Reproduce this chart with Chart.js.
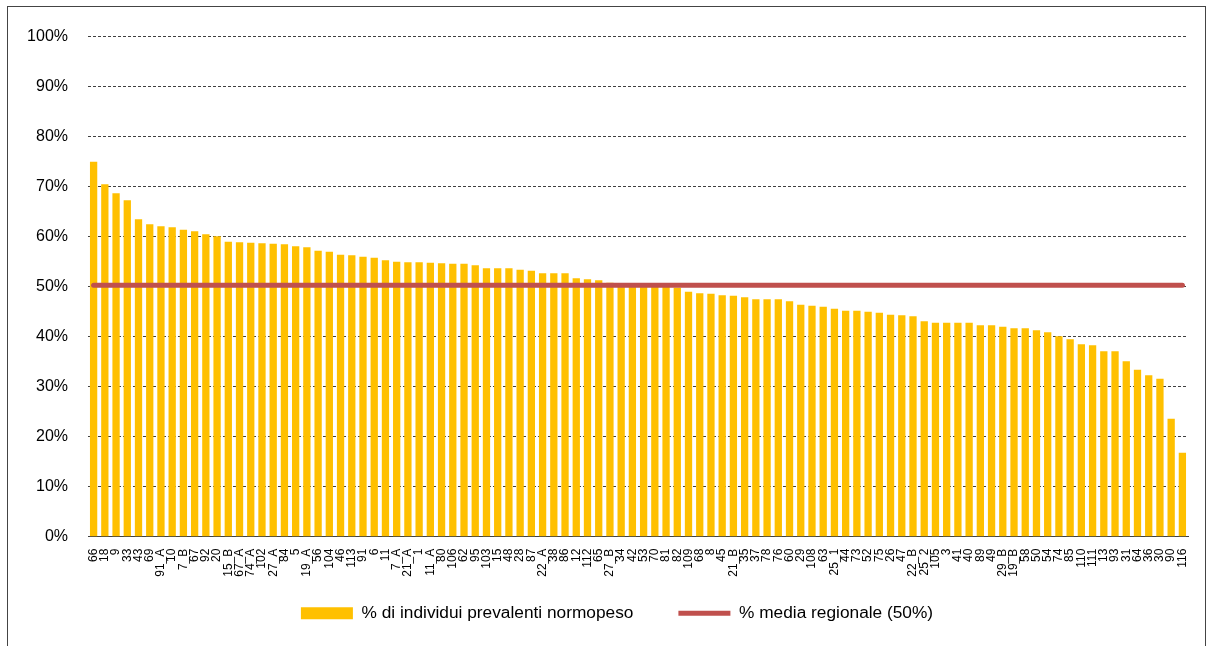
<!DOCTYPE html>
<html>
<head>
<meta charset="utf-8">
<script src="https://cdn.jsdelivr.net/npm/chart.js@4"></script>
<style>
  body { margin: 0; background: #fff; overflow: hidden; }
  #frame { position: absolute; left: 7px; top: 6px; width: 1197px; height: 660px; border: 1px solid #444; }
  #graph { display: block; }
</style>
</head>
<body>
<div id="frame"><canvas id="graph" width="1197" height="638"></canvas></div>
<script>
const ctx = document.getElementById('graph');

// codici distretto (asse x)
const districts = [
    '66', '18', '9', '33', '43', '69', '91_A', '10', '7_B', '67',
    '92', '20', '15_B', '67_A', '74_A', '102', '27_A', '84', '5', '19_A',
    '56', '104', '46', '113', '91', '6', '11', '7_A', '21_A', '1',
    '11_A', '80', '106', '62', '95', '103', '15', '48', '28', '87',
    '22_A', '38', '86', '12', '112', '65', '27_B', '34', '42', '53',
    '70', '81', '82', '109', '68', '8', '45', '21_B', '35', '37',
    '78', '76', '60', '29', '108', '63', '25_1', '44', '73', '52',
    '75', '26', '47', '22_B', '25_2', '105', '3', '41', '40', '89',
    '49', '29_B', '19_B', '58', '50', '54', '74', '85', '110', '111',
    '13', '93', '31', '64', '36', '30', '90', '116'
];

// % di individui prevalenti normopeso
const normopeso = [
    75.0, 70.5, 68.7, 67.3, 63.5, 62.5, 62.1, 61.9, 61.4, 61.1,
    60.5, 60.1, 59.0, 58.9, 58.8, 58.7, 58.6, 58.5, 58.1, 57.9,
    57.2, 57.0, 56.4, 56.3, 56.0, 55.8, 55.3, 55.0, 54.9, 54.9,
    54.8, 54.7, 54.6, 54.6, 54.3, 53.7, 53.7, 53.7, 53.4, 53.2,
    52.7, 52.7, 52.7, 51.7, 51.5, 51.3, 50.8, 50.5, 50.3, 50.2,
    50.0, 50.0, 49.8, 49.0, 48.7, 48.6, 48.3, 48.2, 47.9, 47.5,
    47.5, 47.5, 47.1, 46.4, 46.2, 46.0, 45.6, 45.2, 45.2, 45.0,
    44.8, 44.4, 44.3, 44.1, 43.1, 42.8, 42.8, 42.8, 42.8, 42.3,
    42.3, 42.0, 41.7, 41.7, 41.3, 40.9, 40.1, 39.5, 38.5, 38.3,
    37.1, 37.1, 35.1, 33.4, 32.3, 31.6, 23.6, 16.8
];

const regionalMean = 50.3;
const yTicks = [0, 10, 20, 30, 40, 50, 60, 70, 80, 90, 100];

const barColor = '#FFC000';
const lineColor = '#C0504D';

// legend padding (45) also eats vertical room, so the x labels borrow
// the legend's empty top strip; the legend also sits a bit right of centre
const layoutTweaks = {
    id: 'layoutTweaks',
    afterLayout(chart) {
        chart.scales.x.bottom = chart.legend.bottom;
        chart.legend.left += 19;
        chart.legend.right += 19;
    }
};

const config = {
    type: 'bar',
    data: {
        labels: districts,
        datasets: [
            {
                label: '% di individui prevalenti normopeso',
                data: normopeso,
                backgroundColor: barColor,
                borderWidth: 0,
                barPercentage: 0.65,
                categoryPercentage: 1.0,
                order: 2
            },
            {
                type: 'line',
                label: '% media regionale (50%)',
                data: districts.map(() => regionalMean),
                borderColor: lineColor,
                backgroundColor: lineColor,
                borderWidth: 5,
                borderCapStyle: 'round',
                pointRadius: 0,
                fill: false,
                order: 1
            }
        ]
    },
    options: {
        responsive: false,
        animation: false,
        layout: { padding: { top: 29, right: 17, left: 0, bottom: 13 } },
        scales: {
            x: {
                offset: true,
                grid: { display: false },
                border: { display: true, color: '#404040', width: 1 },
                ticks: {
                    autoSkip: false,
                    maxRotation: 90,
                    minRotation: 90,
                    padding: 4,
                    color: '#000',
                    font: { family: 'Liberation Sans, Arial', size: 12 }
                },
                afterFit: (scale) => { scale.height = 23; }
            },
            y: {
                min: 0,
                max: 100,
                afterBuildTicks: (scale) => { scale.ticks = yTicks.map(v => ({ value: v })); },
                grid: { color: '#404040', drawTicks: false, lineWidth: 1 },
                border: { display: false, dash: [3, 2] },
                ticks: {
                    padding: 20,
                    color: '#000',
                    font: { family: 'Liberation Sans, Arial', size: 16 },
                    callback: (v) => v + '%'
                },
                afterFit: (scale) => { scale.width = 80; }
            }
        },
        plugins: {
            tooltip: { enabled: false },
            legend: {
                position: 'bottom',
                labels: {
                    usePointStyle: true,
                    pointStyleWidth: 52,
                    boxHeight: 12,
                    padding: 45,
                    color: '#000',
                    font: { family: 'Liberation Sans, Arial', size: 17.3 },
                    generateLabels: (chart) => chart.data.datasets.map((ds, i) => ({
                        text: ds.label,
                        fillStyle: i === 0 ? barColor : lineColor,
                        strokeStyle: i === 0 ? barColor : lineColor,
                        lineWidth: i === 0 ? 0 : 5,
                        pointStyle: i === 0 ? 'rect' : 'line',
                        fontColor: '#000',
                        datasetIndex: i
                    }))
                }
            }
        }
    },
    plugins: [layoutTweaks]
};

const chart = new Chart(ctx, config);
</script>
</body>
</html>
